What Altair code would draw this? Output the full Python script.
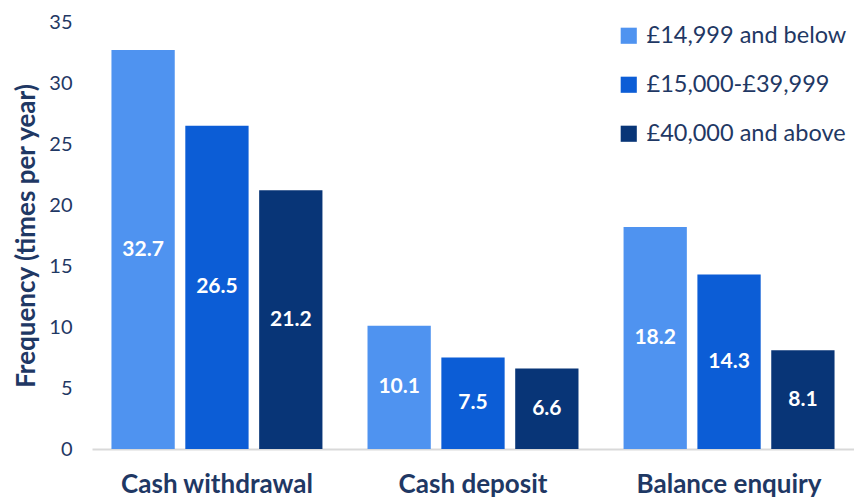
import altair as alt
import pandas as pd

categories = ["Cash withdrawal", "Cash deposit", "Balance enquiry"]
series = ["£14,999 and below", "£15,000-£39,999", "£40,000 and above"]
values = {
    "£14,999 and below": [32.7, 10.1, 18.2],
    "£15,000-£39,999": [26.5, 7.5, 14.3],
    "£40,000 and above": [21.2, 6.6, 8.1],
}
colors = ["#4f93f0", "#0c5dd6", "#083577"]

rows = []
for s in series:
    for c, v in zip(categories, values[s]):
        rows.append({"category": c, "series": s, "value": v, "half": v / 2, "label": f"{v:.1f}"})
df = pd.DataFrame(rows)

FONT = "Lato"
NAVY = "#1f3864"

xscale = alt.Scale(paddingInner=0.176, paddingOuter=0.076)
xenc = alt.X("category:N", sort=categories, title=None, scale=xscale,
             axis=alt.Axis(labelAngle=0, ticks=False, domainColor="#d9d9d9", domainWidth=2,
                           labelFont=FONT, labelFontSize=26, labelFontWeight="bold",
                           labelColor=NAVY, labelPadding=22, labelLimit=400))
xoff = alt.XOffset("series:N", sort=series, scale=alt.Scale(paddingInner=0.143, paddingOuter=0))

bars = alt.Chart(df).mark_bar().encode(
    x=xenc,
    xOffset=xoff,
    y=alt.Y("value:Q", scale=alt.Scale(domain=[0, 35]),
            axis=alt.Axis(values=list(range(0, 36, 5)), grid=False, domain=False, ticks=False,
                          labelFont=FONT, labelFontSize=20, labelColor=NAVY, labelPadding=20,
                          title="Frequency (times per year)", titleFont=FONT, titleFontSize=26,
                          titleFontWeight="bold", titleColor=NAVY, titlePadding=9)),
    color=alt.Color("series:N", sort=series, scale=alt.Scale(domain=series, range=colors),
                    legend=alt.Legend(title=None, orient="none", legendX=525, legendY=2,
                                      symbolType="square", symbolSize=260, symbolStrokeWidth=0,
                                      labelFont=FONT, labelFontSize=23.5, labelColor=NAVY,
                                      rowPadding=24, labelOffset=6, labelLimit=400)),
)

text = alt.Chart(df).mark_text(font=FONT, fontSize=21, fontWeight="bold", color="white",
                               baseline="middle").encode(
    x=alt.X("category:N", sort=categories, scale=xscale),
    xOffset=xoff,
    y=alt.Y("half:Q"),
    text="label:N",
)

chart = alt.layer(bars, text).properties(
    width=762, height=427,
    autosize=alt.AutoSizeParams(type="none"),
    padding={"left": 84, "top": 14, "right": 0, "bottom": 49},
).configure_view(stroke=None)

chart.save("out.html", embed_options={"renderer": "svg", "actions": False})
